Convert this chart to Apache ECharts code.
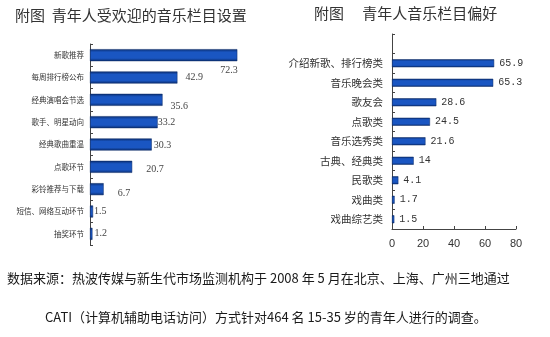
<!DOCTYPE html>
<html><head><meta charset="utf-8">
<script src="https://cdn.jsdelivr.net/npm/echarts@6/dist/echarts.min.js"></script>
<style>html,body{margin:0;padding:0;background:#fff}#c{width:550px;height:337px}</style>
</head><body><div id="c"></div>
<script>
const leftTitle = '附图  青年人受欢迎的音乐栏目设置';
const leftCategories = ['新歌推荐','每周排行榜公布','经典演唱会节选','歌手、明星动向','经典歌曲重温','点歌环节','彩铃推荐与下载','短信、网络互动环节','抽奖环节'];
const leftValues = [72.3, 42.9, 35.6, 33.2, 30.3, 20.7, 6.7, 1.5, 1.2];

const rightTitle = '附图　 青年人音乐栏目偏好';
const rightCategories = ['', '介绍新歌、排行榜类','音乐晚会类','歌友会','点歌类','音乐选秀类','古典、经典类','民歌类','戏曲类','戏曲综艺类'];
const rightValues = [null, 65.9, 65.3, 28.6, 24.5, 21.6, 14, 4.1, 1.7, 1.5];
const rightTicks = [0, 20, 40, 60, 80];

const footerLines = [
  '数据来源：热波传媒与新生代市场监测机构于 2008 年 5 月在北京、上海、广州三地通过',
  'CATI（计算机辅助电话访问）方式针对464 名 15-35 岁的青年人进行的调查。'
];

// label nudges (style only) for the left chart's value labels
const leftLabelNudge = [[-17,15],[8,0],[8,7],[0,0],[2,1],[14,3],[14,4],[1,0],[2,0]];

const barFill = new echarts.graphic.LinearGradient(0,0,0,1,[
  {offset:0,color:'#0a2d70'},{offset:0.25,color:'#1a56c2'},
  {offset:0.75,color:'#1a56c2'},{offset:1,color:'#0a2d70'}]);

const chart = echarts.init(document.getElementById('c'), null, {renderer:'canvas'});
chart.setOption({
  animation:false,
  backgroundColor:'#fff',
  title:[
    {text:leftTitle,left:15,top:8,padding:0,textStyle:{fontFamily:'Noto Sans CJK SC',fontSize:15,fontWeight:'normal',color:'#333'}},
    {text:rightTitle,left:314,top:6,padding:0,textStyle:{fontFamily:'Noto Sans CJK SC',fontSize:15,fontWeight:'normal',color:'#333'}}
  ],
  grid:[
    {left:90,top:44,width:163,height:201},
    {left:392,top:34,width:124,height:195}
  ],
  xAxis:[
    {gridIndex:0,type:'value',min:0,max:80,show:false},
    {gridIndex:1,type:'value',min:0,max:80,interval:20,
     axisLine:{show:true,lineStyle:{color:'#444'}},
     axisTick:{show:true,inside:true,length:3,lineStyle:{color:'#444'}},
     splitLine:{show:false},
     axisLabel:{margin:9,color:'#333',fontSize:11,fontFamily:'Liberation Sans',formatter:v=>rightTicks.includes(v)?String(v):''}}
  ],
  yAxis:[
    {gridIndex:0,type:'category',data:leftCategories,inverse:true,
     axisLine:{show:true,lineStyle:{color:'#444'}},
     axisTick:{show:true,inside:true,length:3,lineStyle:{color:'#444'}},
     axisLabel:{margin:6,color:'#333',fontSize:7.5,fontFamily:'Noto Sans CJK SC'}},
    {gridIndex:1,type:'category',data:rightCategories,inverse:true,
     axisLine:{show:true,lineStyle:{color:'#444'}},
     axisTick:{show:true,inside:true,length:3,lineStyle:{color:'#444'}},
     axisLabel:{margin:9,color:'#333',fontSize:10.5,fontFamily:'Noto Sans CJK SC'}}
  ],
  series:[
    {type:'bar',xAxisIndex:0,yAxisIndex:0,barWidth:12,
     data:leftValues.map((v,i)=>({value:v,label:{offset:leftLabelNudge[i]}})),
     itemStyle:{color:barFill,borderColor:'#0a2a66',borderWidth:0.5},
     label:{show:true,position:'right',distance:0,align:'left',color:'#444',fontSize:10,fontFamily:'Liberation Serif'}},
    {type:'bar',xAxisIndex:1,yAxisIndex:1,barWidth:8,
     data:rightValues,
     itemStyle:{color:barFill,borderColor:'#0a2a66',borderWidth:0.5},
     label:{show:true,position:'right',distance:5,color:'#333',fontSize:10,fontFamily:'Liberation Mono'}}
  ],
  graphic:[
    {type:'text',left:7,top:272,style:{text:footerLines[0],fontSize:13,fontFamily:'Noto Sans CJK SC',fill:'#1a1a1a'}},
    {type:'text',left:45,top:311,style:{text:footerLines[1],fontSize:13,fontFamily:'Noto Sans CJK SC',fill:'#1a1a1a'}}
  ]
});
</script></body></html>
